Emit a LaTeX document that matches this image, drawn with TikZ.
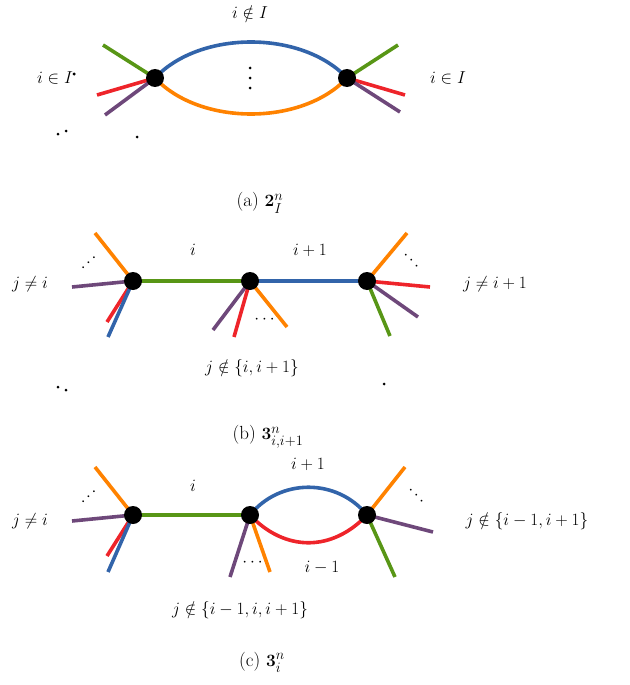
\documentclass[tikz,border=0pt]{standalone}
\usepackage{amsmath,amssymb}
\begin{document}
\begin{tikzpicture}[x=1pt,y=-1pt,
 e/.style={line width=3.6pt},
 v/.style={circle,fill=black,inner sep=0pt,minimum size=18pt},
 dt/.style={circle,fill=black,inner sep=0pt,minimum size=3pt},
 lab/.style={font=\fontsize{19}{22}\selectfont}]
\definecolor{cg}{RGB}{88,150,22}
\definecolor{cb}{RGB}{50,100,170}
\definecolor{co}{RGB}{255,130,0}
\definecolor{cr}{RGB}{238,36,42}
\definecolor{cp}{RGB}{110,72,122}
\useasboundingbox (0,0) rectangle (629,685);
% (a)
\coordinate (a1) at (155,78); \coordinate (a2) at (347,78);
\draw[e,cg] (a1) -- (103,45); \draw[e,cr] (a1) -- (97,95); \draw[e,cp] (a1) -- (105,115);
\draw[e,cg] (a2) -- (398,45); \draw[e,cr] (a2) -- (405,95); \draw[e,cp] (a2) -- (400,112);
\draw[e,cb] (a1) .. controls (200,30) and (302,30) .. (a2);
\draw[e,co] (a1) .. controls (200,126) and (302,126) .. (a2);
\node[v] (va1) at (a1) {}; \node[v] (va2) at (a2) {};
\node[lab] (ta) at (250,12) {$i\notin I$};
\node[lab] (tl) at (55,78) {$i\in I$};
\node[lab] (tr) at (448,78) {$i\in I$};
\foreach \y in {68,78,88} \node[dt] at (250,\y) {};
\foreach \x/\y in {137,58/134,66/131,74} \node[dt] at (\x,\y) {};
\foreach \x/\y in {384,58/387,66/390,74} \node[dt] at (\x,\y) {};
\node[lab] (ca) at (260,203) {(a) $\mathbf{2}^n_I$};
% (b)
\coordinate (b1) at (133,281); \coordinate (b2) at (250,281); \coordinate (b3) at (367,281);
\draw[e,co] (b1) -- (95,233); \draw[e,cp] (b1) -- (72,287); \draw[e,cr] (b1) -- (107,322); \draw[e,cb] (b1) -- (108,337);
\draw[e,cp] (b2) -- (213,330); \draw[e,cr] (b2) -- (234,337); \draw[e,co] (b2) -- (287,327);
\draw[e,co] (b3) -- (407,233); \draw[e,cr] (b3) -- (430,287); \draw[e,cp] (b3) -- (418,317); \draw[e,cg] (b3) -- (390,336);
\draw[e,cg] (b1) -- (b2); \draw[e,cb] (b2) -- (b3);
\node[v] (vb1) at (b1) {}; \node[v] (vb2) at (b2) {}; \node[v] (vb3) at (b3) {};
\node[lab] at (193,250) {$i$};
\node[lab] at (310,250) {$i+1$};
\node[lab,rotate=45] at (90,262) {$\cdots$};
\node[lab,rotate=-45] at (412,262) {$\cdots$};
\node[lab] at (266,320) {$\cdots$};
\node[lab] at (30,284) {$j\neq i$};
\node[lab] at (495,284) {$j\neq i+1$};
\node[lab] at (252,368) {$j\notin\{i,i+1\}$};
\node[lab] at (268,437) {(b) $\mathbf{3}^n_{i,i+1}$};
% (c)
\coordinate (c1) at (133,515); \coordinate (c2) at (250,515); \coordinate (c3) at (367,515);
\draw[e,co] (c1) -- (95,467); \draw[e,cp] (c1) -- (72,521); \draw[e,cr] (c1) -- (107,556); \draw[e,cb] (c1) -- (108,572);
\draw[e,cp] (c2) -- (230,577); \draw[e,co] (c2) -- (270,572);
\draw[e,co] (c3) -- (405,467); \draw[e,cp] (c3) -- (433,532); \draw[e,cg] (c3) -- (395,577);
\draw[e,cg] (c1) -- (c2);
\draw[e,cb] (c2) .. controls (280,478) and (337,478) .. (c3);
\draw[e,cr] (c2) .. controls (285,552) and (332,552) .. (c3);
\node[v] (vc1) at (c1) {}; \node[v] (vc2) at (c2) {}; \node[v] (vc3) at (c3) {};
\node[lab] at (193,486) {$i$};
\node[lab] at (308,464) {$i+1$};
\node[lab] at (322,568) {$i-1$};
\node[lab,rotate=45] at (90,496) {$\cdots$};
\node[lab,rotate=-45] at (417,497) {$\cdots$};
\node[lab] at (254,563) {$\cdots$};
\node[lab] at (30,521) {$j\neq i$};
\node[lab] at (527,521) {$j\notin\{i-1,i+1\}$};
\node[lab] at (240,610) {$j\notin\{i-1,i,i+1\}$};
\node[lab] at (262,662) {(c) $\mathbf{3}^n_i$};
\end{tikzpicture}
\end{document}
